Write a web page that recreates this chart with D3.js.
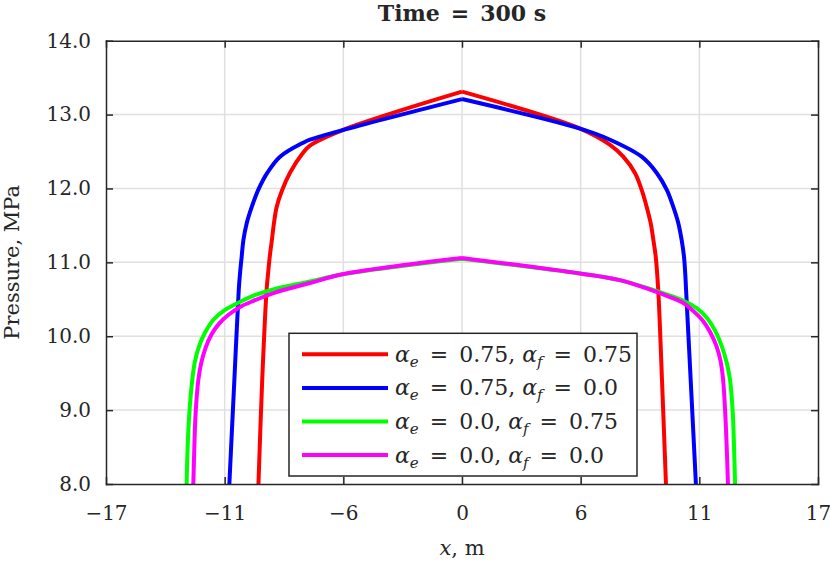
<!DOCTYPE html>
<html lang="en">
  <head>
    <meta charset="utf-8"/>
    <title>Time = 300 s</title>
    <script src="https://d3js.org/d3.v7.min.js"></script>
    <style>
      body { margin: 0; background: #fff; }
      svg text { font-family: "DejaVu Serif", "Liberation Serif", serif; fill: #262626; }
      .grid line { stroke: #e0e0e0; stroke-width: 1.5px; }
      .axis path, .axis line { stroke: #262626; stroke-width: 1.5px; }
      .axis text { font-size: 20px; }
      .curve { fill: none; stroke-width: 4px; stroke-linejoin: miter; }
    </style>
  </head>
  <body>
    <div id="chart"></div>
    <script>
      // ---- data ----
      var xTicks = [-17, -11.333, -5.667, 0, 5.667, 11.333, 17];
      var xTickLabels = ["\u221217", "\u221211", "\u22126", "0", "6", "11", "17"];
      var yTicks = [8, 9, 10, 11, 12, 13, 14];
      var yTickLabels = ["8.0", "9.0", "10.0", "11.0", "12.0", "13.0", "14.0"];

      // alpha_e = 0.75, alpha_f = 0.75
      var redX = [-9.72, -9.54, -9.33, -9.26, -9.18, -9.08, -8.98, -8.85, -8.60, -8.20, -7.60, -7.26, -5.70, 0,
                  5.64, 7.07, 7.70, 8.26, 8.58, 8.82, 9.01, 9.14, 9.25, 9.37, 9.55, 9.74];
      var redP = [8.00, 9.41, 10.63, 10.85, 11.08, 11.30, 11.53, 11.75, 11.97, 12.22, 12.48, 12.58, 12.79, 13.31,
                  12.81, 12.59, 12.43, 12.21, 11.98, 11.75, 11.53, 11.30, 11.08, 10.63, 9.41, 8.00];

      // alpha_e = 0.75, alpha_f = 0.0
      var blueX = [-11.11, -10.87, -10.66, -10.60, -10.52, -10.44, -10.28, -10.04, -9.73, -9.30, -8.69, -7.58, -7.26, -5.70, 0,
                   5.64, 7.07, 8.58, 9.30, 9.78, 10.09, 10.33, 10.49, 10.60, 10.66, 10.70, 10.92, 11.17];
      var blueP = [8.00, 9.41, 10.63, 10.85, 11.08, 11.30, 11.53, 11.75, 11.98, 12.21, 12.43, 12.62, 12.66, 12.79, 13.21,
                   12.81, 12.66, 12.43, 12.21, 11.98, 11.75, 11.53, 11.30, 11.08, 10.85, 10.63, 9.41, 8.00];

      // alpha_e = 0.0, alpha_f = 0.75
      var greenX = [-13.15, -13.10, -13.02, -12.88, -12.76, -12.55, -12.25, -11.85, -11.35, -10.84, -10.04, -8.93, -7.26, -5.70, 0,
                    5.64, 7.54, 8.98, 9.93, 10.57, 11.21, 11.69, 12.08, 12.40, 12.65, 12.80, 12.93, 12.99, 13.04];
      var greenP = [8.00, 8.51, 8.96, 9.41, 9.65, 9.87, 10.06, 10.23, 10.35, 10.43, 10.54, 10.64, 10.74, 10.84, 11.05,
                    10.85, 10.76, 10.64, 10.55, 10.48, 10.38, 10.25, 10.08, 9.87, 9.63, 9.41, 8.96, 8.51, 8.00];

      // alpha_e = 0.0, alpha_f = 0.0
      var magentaX = [-12.83, -12.78, -12.72, -12.59, -12.46, -12.25, -11.97, -11.60, -11.15, -10.64, -10.04, -8.93, -7.26, -5.70, 0,
                      5.64, 7.54, 8.98, 9.93, 10.57, 11.05, 11.53, 11.84, 12.16, 12.35, 12.47, 12.57, 12.64, 12.70];
      var magentaP = [8.00, 8.51, 8.96, 9.41, 9.63, 9.84, 10.02, 10.17, 10.29, 10.39, 10.47, 10.59, 10.72, 10.84, 11.06,
                      10.85, 10.76, 10.63, 10.53, 10.45, 10.34, 10.20, 10.06, 9.86, 9.66, 9.41, 8.96, 8.51, 8.00];

      var series = [
        { color: "#ff0000", xs: redX, ps: redP, ae: "0.75", af: "0.75" },
        { color: "#0000ff", xs: blueX, ps: blueP, ae: "0.75", af: "0.0" },
        { color: "#00ff00", xs: greenX, ps: greenP, ae: "0.0", af: "0.75" },
        { color: "#ff00ff", xs: magentaX, ps: magentaP, ae: "0.0", af: "0.0" }
      ];

      // ---- layout ----
      var W = 830, H = 564;
      var plotL = 106, plotR = 818, plotT = 40.7, plotB = 484;

      var x = d3.scaleLinear().domain([-17, 17]).range([plotL, plotR]);
      var y = d3.scaleLinear().domain([8, 14]).range([plotB, plotT]);

      var svg = d3.select("#chart").append("svg")
        .attr("width", W)
        .attr("height", H);

      svg.append("clipPath").attr("id", "plot-clip")
        .append("rect")
        .attr("x", plotL).attr("y", plotT)
        .attr("width", plotR - plotL).attr("height", plotB - plotT);

      // grid
      var grid = svg.append("g").attr("class", "grid");
      grid.selectAll(".gx").data(xTicks.slice(1, -1)).enter().append("line")
        .attr("x1", function(d) { return x(d); })
        .attr("x2", function(d) { return x(d); })
        .attr("y1", plotT).attr("y2", plotB);
      grid.selectAll(".gy").data(yTicks.slice(1, -1)).enter().append("line")
        .attr("y1", function(d) { return y(d); })
        .attr("y2", function(d) { return y(d); })
        .attr("x1", plotL).attr("x2", plotR);

      // curves: smooth each flank, keep the sharp peak at x = 0
      var line = d3.line()
        .curve(d3.curveCatmullRom.alpha(0.5))
        .x(function(d) { return x(d[0]); })
        .y(function(d) { return y(d[1]); });

      svg.append("g").attr("clip-path", "url(#plot-clip)")
        .selectAll("path").data(series).enter().append("path")
          .attr("class", "curve")
          .attr("stroke", function(s) { return s.color; })
          .attr("d", function(s) {
            var pts = d3.zip(s.xs, s.ps);
            var k = s.xs.indexOf(0);
            return line(pts.slice(0, k + 1)) + line(pts.slice(k));
          });

      // axes (ticks pointing inward, box on all four sides)
      var fmtX = function(d, i) { return xTickLabels[i]; };
      var fmtY = function(d, i) { return yTickLabels[i]; };

      svg.append("g").attr("class", "axis")
        .attr("transform", "translate(0," + plotB + ")")
        .call(d3.axisBottom(x).tickValues(xTicks).tickFormat(fmtX).tickSizeInner(-7).tickSizeOuter(0).tickPadding(22));
      svg.append("g").attr("class", "axis")
        .attr("transform", "translate(0," + plotT + ")")
        .call(d3.axisTop(x).tickValues(xTicks).tickFormat("").tickSizeInner(-7).tickSizeOuter(0));
      svg.append("g").attr("class", "axis")
        .attr("transform", "translate(" + plotL + ",0)")
        .call(d3.axisLeft(y).tickValues(yTicks).tickFormat(fmtY).tickSizeInner(-7).tickSizeOuter(0).tickPadding(15));
      svg.append("g").attr("class", "axis")
        .attr("transform", "translate(" + plotR + ",0)")
        .call(d3.axisRight(y).tickValues(yTicks).tickFormat("").tickSizeInner(-7).tickSizeOuter(0));

      svg.selectAll(".axis .domain").attr("stroke-linecap", "square");

      // labels
      svg.append("text")
        .attr("x", (plotL + plotR) / 2).attr("y", 21)
        .attr("text-anchor", "middle")
        .style("font-size", "22px").style("font-weight", "bold")
        .text("Time\u2002=\u2002300 s");

      var xl = svg.append("text")
        .attr("x", (plotL + plotR) / 2).attr("y", 555)
        .attr("text-anchor", "middle")
        .style("font-size", "21px");
      xl.append("tspan").style("font-style", "italic").text("x");
      xl.append("tspan").text(", m");

      svg.append("text")
        .attr("transform", "translate(19," + (plotT + plotB) / 2 + ") rotate(-90)")
        .attr("text-anchor", "middle")
        .style("font-size", "21px")
        .text("Pressure, MPa");

      // legend
      var lg = svg.append("g").attr("class", "legend");
      lg.append("rect")
        .attr("x", 289).attr("y", 333.3)
        .attr("width", 637 - 289).attr("height", 476 - 333.3)
        .attr("fill", "#fff").attr("stroke", "#262626").attr("stroke-width", 1.5);

      var rows = lg.selectAll(".row").data(series).enter().append("g")
        .attr("transform", function(s, i) { return "translate(0," + (354.3 + i * 33.6) + ")"; });

      rows.append("line")
        .attr("x1", 302).attr("x2", 388).attr("y1", 0).attr("y2", 0)
        .attr("stroke", function(s) { return s.color; })
        .attr("stroke-width", 4);

      var lt = rows.append("text")
        .attr("x", 395).attr("y", 7.5)
        .style("font-size", "22px");
      lt.each(function(s) {
        var t = d3.select(this);
        t.append("tspan").style("font-style", "italic").text("\u03b1");
        t.append("tspan").attr("dy", 5).style("font-size", "15px").style("font-style", "italic").text("e");
        t.append("tspan").attr("dy", -5).text("\u2002=\u2002" + s.ae + ", ");
        t.append("tspan").style("font-style", "italic").text("\u03b1");
        t.append("tspan").attr("dy", 5).style("font-size", "15px").style("font-style", "italic").text("f");
        t.append("tspan").attr("dy", -5).text("\u2002=\u2002" + s.af);
      });
    </script>
  </body>
</html>
